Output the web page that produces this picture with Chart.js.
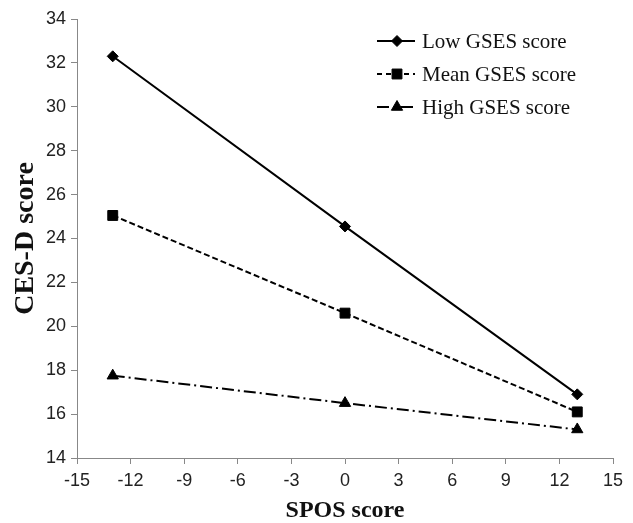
<!DOCTYPE html>
<html>
<head>
<meta charset="utf-8">
<script src="https://cdn.jsdelivr.net/npm/chart.js@4"></script>
<style>
  html, body { margin: 0; padding: 0; background: #fff; }
  #wrap { width: 633px; height: 523px; }
</style>
</head>
<body>
<div id="wrap"><canvas id="c" width="633" height="523"></canvas></div>
<script>
const spos = [-13, 0, 13];
const lowGSES = [32.3, 24.55, 16.9];
const meanGSES = [25.05, 20.6, 16.1];
const highGSES = [17.75, 16.5, 15.3];
const seriesNames = ['Low GSES score', 'Mean GSES score', 'High GSES score'];
const xTicks = [-15, -12, -9, -6, -3, 0, 3, 6, 9, 12, 15];
const yTicks = [14, 16, 18, 20, 22, 24, 26, 28, 30, 32, 34];

const styles = [
  { dash: [], point: 'rectRot', radius: 5.5 },
  { dash: [6, 3], point: 'rect', radius: 7 },
  { dash: [12, 4, 2, 4], point: 'triangle', radius: 6.5 }
];

function pts(vals) { return spos.map((x, i) => ({ x: x, y: vals[i] })); }

const seriesData = [lowGSES, meanGSES, highGSES];
const datasets = seriesData.map((vals, i) => ({
  label: seriesNames[i],
  data: pts(vals),
  borderColor: '#000',
  backgroundColor: '#000',
  borderWidth: 2,
  borderDash: styles[i].dash,
  pointStyle: styles[i].point,
  pointRadius: styles[i].radius,
  pointBorderWidth: 1,
  pointBorderColor: '#000',
  pointBackgroundColor: '#000',
  showLine: true,
  tension: 0
}));

const legendPlugin = {
  id: 'customLegend',
  afterDraw(chart) {
    const ctx = chart.ctx;
    const x0 = 377, x1 = 415, xm = 397, tx = 422;
    const ys = [41, 74, 107];
    const legendDash = [[], [5, 4], [12, 5, 2, 5]];
    ctx.save();
    seriesNames.forEach((name, i) => {
      const y = ys[i];
      ctx.strokeStyle = '#000';
      ctx.lineWidth = 2;
      ctx.setLineDash(legendDash[i]);
      ctx.beginPath();
      ctx.moveTo(x0, y);
      ctx.lineTo(x1, y);
      ctx.stroke();
      ctx.setLineDash([]);
      ctx.fillStyle = '#000';
      ctx.strokeStyle = '#000';
      ctx.lineWidth = 1;
      Chart.helpers.drawPoint(ctx, {
        pointStyle: styles[i].point,
        radius: styles[i].radius,
        rotation: 0,
        borderWidth: 1
      }, xm, y);
      ctx.fillStyle = '#111';
      ctx.font = '21px "Liberation Serif"';
      ctx.textBaseline = 'middle';
      ctx.textAlign = 'left';
      ctx.fillText(name, tx, y + 1);
    });
    ctx.restore();
  }
};

new Chart(document.getElementById('c'), {
  type: 'scatter',
  data: { datasets: datasets },
  plugins: [legendPlugin],
  options: {
    responsive: false,
    animation: false,
    devicePixelRatio: 1,
    layout: { padding: { top: 19, right: 20, left: 0, bottom: 0 } },
    plugins: { legend: { display: false }, tooltip: { enabled: false } },
    scales: {
      x: {
        type: 'linear',
        min: -15, max: 15,
        afterFit(s) { s.height = 65; },
        afterBuildTicks(s) { s.ticks = xTicks.map(v => ({ value: v })); },
        grid: { drawOnChartArea: false, drawTicks: true, tickLength: 6, color: '#888' },
        border: { color: '#888', width: 1 },
        ticks: { color: '#222', font: { family: '"Liberation Sans"', size: 18 }, padding: 6, maxRotation: 0 },
        title: { display: true, text: 'SPOS score', color: '#111',
          font: { family: '"Liberation Serif"', size: 24, weight: 'bold', lineHeight: 1 },
          padding: { top: 0, bottom: 0 } }
      },
      y: {
        type: 'linear',
        min: 14, max: 34,
        afterFit(s) { s.width = 77; },
        afterBuildTicks(s) { s.ticks = yTicks.map(v => ({ value: v })); },
        grid: { drawOnChartArea: false, drawTicks: true, tickLength: 6, color: '#888' },
        border: { color: '#888', width: 1 },
        ticks: { color: '#222', font: { family: '"Liberation Sans"', size: 18 }, padding: 5 },
        title: { display: true, text: 'CES-D score', color: '#111',
          font: { family: '"Liberation Serif"', size: 28, weight: 'bold', lineHeight: 1.2 },
          padding: { top: 9, bottom: 0 } }
      }
    }
  }
});
</script>
</body>
</html>
